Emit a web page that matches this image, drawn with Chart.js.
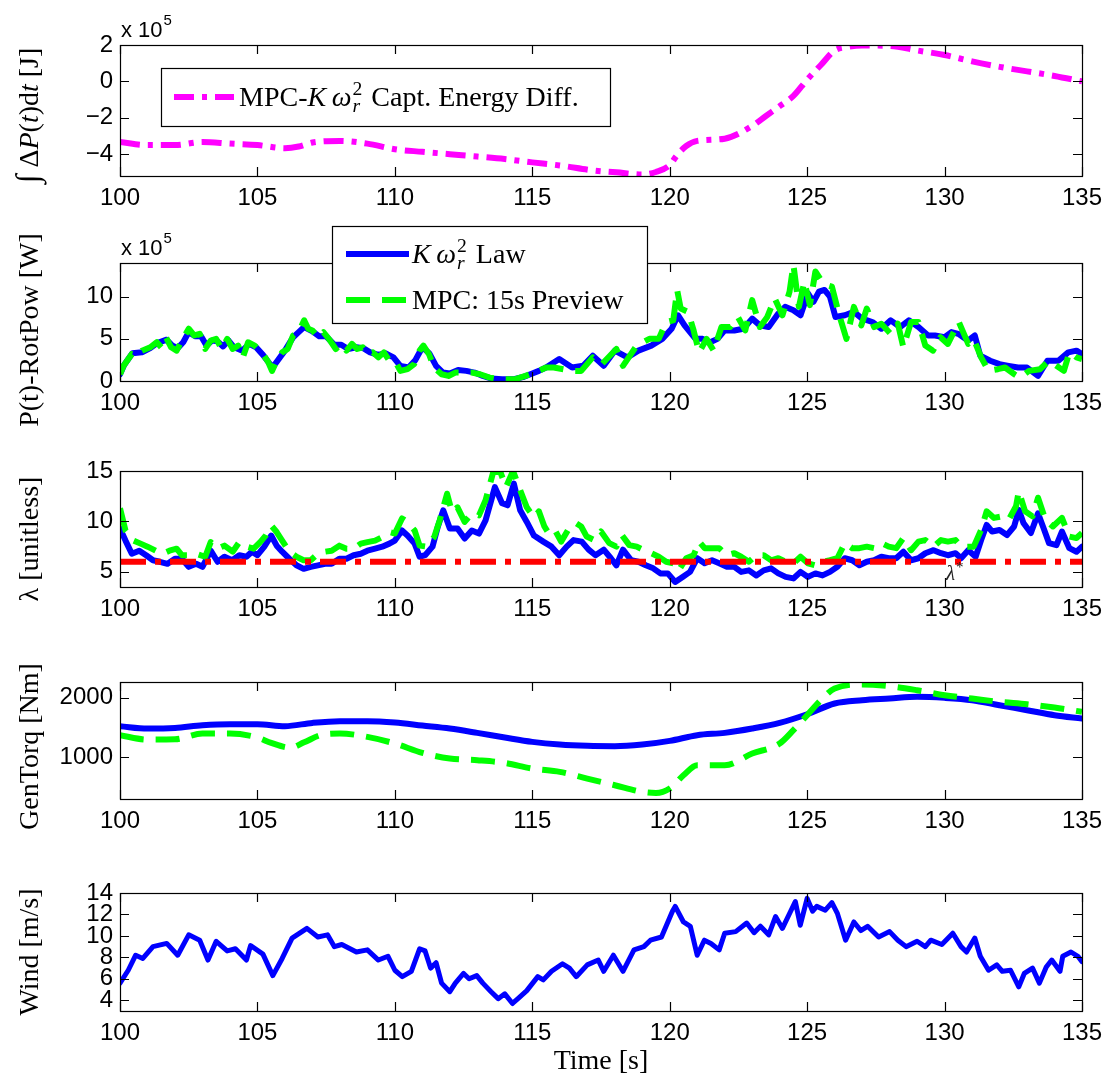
<!DOCTYPE html>
<html>
<head>
<meta charset="utf-8">
<script src="https://cdn.jsdelivr.net/npm/chart.js@4.4.0/dist/chart.umd.min.js"></script>
<style>
html, body { margin: 0; padding: 0; background: #fff; }
#fig { position: relative; width: 1116px; height: 1081px; overflow: hidden; background: #fff; }
#fig canvas { position: absolute; left: 0; }
</style>
</head>
<body>
<div id="fig">
  <canvas id="c_energy"></canvas>
  <canvas id="c_power"></canvas>
  <canvas id="c_tsr"></canvas>
  <canvas id="c_torque"></canvas>
  <canvas id="c_wind"></canvas>
</div>
<script>
// tick values
const timeTicks = [100, 105, 110, 115, 120, 125, 130, 135];
const energyTicks = [-4, -2, 0, 2];
const powerTicks = [0, 5, 10];
const tsrTicks = [5, 10, 15];
const torqueTicks = [1000, 2000];
const windTicks = [4, 6, 8, 10, 12, 14];

// integral of MPC minus K*w^2 power [x1e5 J], as [time, value]
const energyDiff = [
  [100, -3.33], [101, -3.5], [102, -3.5], [103, -3.33], [104, -3.42], [105, -3.5], [106, -3.67],
  [106.5, -3.58], [107, -3.36], [108, -3.27], [109, -3.42], [110, -3.73], [111, -3.87], [112, -4.0],
  [113, -4.13], [114, -4.27], [115, -4.45], [116, -4.62], [117.25, -4.9], [118.06, -5.0], [119, -5.12],
  [119.5, -4.98], [120, -4.6], [120.27, -4.05], [120.6, -3.55], [121, -3.27], [122, -3.15], [123, -2.45],
  [123.5, -1.9], [124, -1.36], [124.5, -0.8], [125, 0.1], [125.5, 0.9], [126, 1.7], [126.5, 1.9],
  [127, 1.97], [128, 1.95], [129, 1.7], [130, 1.45], [131, 1.1], [132, 0.8], [133, 0.55], [134, 0.3], [135, 0.0]
];

// rotor power [x1e5 W]
const powerKw2 = [
  [100, 0.8], [100.15, 1.9], [100.45, 3.3], [100.8, 3.4], [101.1, 3.9], [101.35, 4.5], [101.7, 4.9], [101.9, 4.2],
  [102.1, 3.9], [102.3, 4.6], [102.5, 5.8], [102.75, 5.3], [102.95, 5.3], [103.15, 4.2], [103.35, 4.8], [103.55, 4.7],
  [103.75, 4.1], [103.95, 4.8], [104.15, 4.0], [104.45, 3.6], [104.7, 4.4], [104.95, 4.0], [105.2, 3.1], [105.55, 1.6],
  [105.75, 2.5], [106.0, 3.6], [106.3, 5.2], [106.5, 5.8], [106.7, 6.4], [107.0, 5.9], [107.25, 5.3], [107.5, 5.3],
  [107.8, 4.3], [108.05, 4.3], [108.3, 3.8], [108.6, 4.0], [108.85, 3.9], [109.1, 3.4], [109.4, 3.1], [109.65, 3.3],
  [109.95, 2.8], [110.2, 1.8], [110.5, 1.6], [110.75, 2.5], [111.0, 4.0], [111.25, 3.3], [111.5, 1.8], [111.75, 1.0],
  [112.0, 0.9], [112.3, 1.3], [112.6, 1.2], [112.9, 1.0], [113.2, 0.6], [113.5, 0.3], [113.9, 0.2], [114.3, 0.2],
  [114.7, 0.5], [115.0, 0.9], [115.24, 1.2], [115.5, 1.6], [115.98, 2.6], [116.45, 1.6], [116.85, 1.8], [117.2, 3.0],
  [117.6, 1.8], [118.0, 3.6], [118.46, 2.8], [118.86, 3.6], [119.33, 4.2], [119.73, 5.0], [120.07, 6.2], [120.3, 7.8],
  [120.54, 6.6], [120.74, 5.8], [120.94, 5.0], [121.2, 5.0], [121.47, 4.6], [121.74, 5.0], [122.0, 6.0], [122.35, 6.0],
  [122.68, 6.2], [123.0, 7.4], [123.28, 6.6], [123.6, 6.4], [123.95, 8.0], [124.2, 8.8], [124.5, 8.4], [124.76, 7.8],
  [125.03, 10.4], [125.23, 9.4], [125.43, 10.6], [125.63, 10.8], [125.83, 10.0], [126.03, 7.6], [126.37, 7.8],
  [126.7, 8.2], [127.0, 7.4], [127.37, 7.0], [127.7, 6.2], [128.04, 7.2], [128.38, 6.4], [128.7, 7.2], [129.05, 6.4],
  [129.4, 5.4], [129.65, 5.4], [130.0, 5.2], [130.25, 5.8], [130.5, 5.6], [130.85, 4.8], [131.1, 5.4], [131.3, 3.0],
  [131.66, 2.4], [132.0, 2.0], [132.33, 1.8], [132.67, 1.6], [133.0, 1.6], [133.4, 0.6], [133.74, 2.4], [134.14, 2.4],
  [134.5, 3.4], [134.8, 3.6], [135, 3.2]
];
const powerMpc = [
  [100, 0.8], [100.13, 1.8], [100.43, 3.2], [100.62, 3.0], [100.8, 3.6], [101.1, 4.0], [101.34, 4.6], [101.5, 4.0],
  [101.67, 5.2], [101.86, 4.0], [102.06, 3.6], [102.25, 4.8], [102.5, 6.2], [102.7, 5.4], [102.9, 5.6], [103.1, 3.8],
  [103.3, 4.8], [103.5, 5.0], [103.7, 3.8], [103.9, 5.0], [104.1, 3.8], [104.3, 4.2], [104.47, 2.8], [104.66, 4.6],
  [104.9, 4.2], [105.2, 3.2], [105.4, 2.2], [105.53, 1.2], [105.7, 2.4], [105.9, 3.4], [106.1, 3.8], [106.3, 5.4],
  [106.5, 5.8], [106.7, 7.2], [106.85, 6.2], [107.0, 6.0], [107.2, 5.2], [107.4, 5.8], [107.6, 5.0], [107.85, 3.8],
  [108.05, 4.4], [108.24, 3.6], [108.44, 4.4], [108.63, 3.8], [108.83, 4.0], [109.0, 3.2], [109.2, 3.4], [109.4, 2.8],
  [109.6, 3.4], [109.8, 2.4], [110.0, 2.4], [110.2, 1.2], [110.46, 1.4], [110.7, 2.0], [110.9, 3.6], [111.04, 4.2],
  [111.24, 3.2], [111.43, 1.6], [111.7, 0.8], [111.95, 0.6], [112.2, 1.0], [112.5, 1.0], [112.8, 1.0], [113.1, 0.8],
  [113.45, 0.4], [113.84, 0.2], [114.36, 0.2], [114.75, 0.6], [115.1, 1.0], [115.5, 1.6], [115.78, 1.6], [116.45, 1.2],
  [116.78, 1.2], [117.2, 2.8], [117.53, 2.0], [118.06, 3.8], [118.3, 1.8], [118.8, 4.2], [119.26, 5.0], [119.6, 5.0],
  [119.87, 7.0], [120.13, 7.2], [120.27, 10.8], [120.4, 8.6], [120.67, 8.2], [120.87, 6.0], [121.07, 3.4], [121.34, 5.0],
  [121.6, 3.6], [121.88, 6.4], [122.2, 6.4], [122.48, 7.6], [122.75, 6.0], [123.0, 9.6], [123.28, 6.4], [123.55, 7.6],
  [123.82, 9.8], [124.1, 7.8], [124.36, 10.6], [124.5, 13.8], [124.7, 8.8], [124.9, 11.8], [125.1, 9.0], [125.3, 13.0],
  [125.5, 12.0], [125.7, 11.4], [125.9, 11.2], [126.17, 7.8], [126.43, 5.0], [126.7, 8.8], [126.97, 6.6], [127.17, 8.6],
  [127.44, 6.4], [127.7, 6.8], [128.04, 5.6], [128.3, 6.8], [128.5, 4.0], [128.78, 7.0], [129.05, 7.0], [129.3, 4.2],
  [129.58, 3.6], [129.85, 5.2], [130.12, 4.4], [130.52, 7.0], [130.86, 4.4], [131.06, 5.0], [131.33, 2.8], [131.6, 1.2],
  [131.94, 1.4], [132.2, 1.6], [132.54, 0.8], [132.74, 0.4], [133.07, 1.2], [133.47, 1.4], [133.8, 2.4], [134.07, 1.8],
  [134.34, 1.2], [134.54, 3.4], [134.8, 2.8], [135, 2.6]
];

// tip speed ratio [-]
const tsrOptimal = 6.0;
const tsrKw2 = [
  [100, 9.3], [100.2, 8.1], [100.43, 6.8], [100.7, 7.1], [100.95, 6.65], [101.2, 6.15], [101.45, 6.0], [101.73, 5.8],
  [102.0, 6.3], [102.25, 6.3], [102.5, 5.5], [102.77, 5.8], [103.0, 5.5], [103.3, 7.1], [103.55, 6.0], [103.8, 6.5],
  [104.08, 6.15], [104.34, 6.65], [104.6, 6.5], [104.8, 7.0], [105.0, 6.65], [105.25, 7.5], [105.5, 8.6], [105.7, 7.6],
  [105.9, 7.0], [106.16, 6.3], [106.42, 5.65], [106.68, 5.3], [106.94, 5.5], [107.2, 5.65], [107.46, 5.8], [107.7, 5.8],
  [107.98, 6.3], [108.24, 6.3], [108.5, 6.65], [108.76, 6.8], [109.0, 7.1], [109.28, 7.3], [109.54, 7.5], [109.8, 7.8],
  [110.0, 8.1], [110.26, 9.1], [110.46, 8.6], [110.72, 7.8], [110.9, 6.5], [111.1, 6.65], [111.37, 7.5], [111.56, 9.45],
  [111.76, 11.1], [112.0, 9.3], [112.28, 9.3], [112.54, 8.3], [112.8, 9.1], [113.06, 8.8], [113.3, 10.1], [113.64, 13.4],
  [113.9, 11.8], [114.1, 11.6], [114.33, 13.75], [114.56, 11.1], [114.8, 9.95], [115.06, 8.6], [115.4, 8.0], [115.7, 7.5],
  [115.98, 6.65], [116.25, 7.5], [116.5, 8.15], [116.8, 8.0], [117.05, 7.2], [117.3, 6.65], [117.6, 7.2], [117.86, 6.35],
  [118.06, 5.65], [118.3, 7.2], [118.6, 6.15], [118.86, 6.0], [119.13, 5.65], [119.4, 5.35], [119.66, 4.85], [119.93, 4.85],
  [120.2, 4.0], [120.47, 4.5], [120.74, 5.0], [121.0, 6.35], [121.27, 5.85], [121.54, 6.15], [121.8, 5.85], [122.08, 5.5],
  [122.35, 5.5], [122.6, 5.0], [122.88, 5.15], [123.15, 4.65], [123.42, 5.15], [123.69, 5.35], [123.95, 4.85], [124.22, 4.5],
  [124.5, 4.35], [124.76, 5.0], [125.03, 4.5], [125.3, 4.85], [125.56, 4.65], [125.83, 5.0], [126.1, 5.5], [126.37, 6.35],
  [126.64, 6.15], [126.9, 5.65], [127.17, 6.0], [127.44, 6.15], [127.7, 6.5], [127.97, 6.35], [128.24, 6.35], [128.5, 7.0],
  [128.78, 6.15], [129.05, 6.35], [129.3, 6.85], [129.6, 7.15], [129.87, 6.85], [130.12, 6.65], [130.4, 6.85], [130.6, 6.35],
  [130.86, 7.15], [131.13, 6.5], [131.33, 8.15], [131.53, 9.65], [131.73, 9.0], [132.0, 9.15], [132.27, 8.65], [132.53, 9.5],
  [132.7, 11.15], [132.87, 9.85], [133.14, 8.85], [133.4, 10.8], [133.6, 9.35], [133.8, 7.85], [134.07, 7.65], [134.27, 9.0],
  [134.54, 7.35], [134.8, 7.0], [135, 7.5]
];
const tsrMpc = [
  [100, 11.3], [100.2, 9.1], [100.5, 8.1], [100.75, 7.8], [101.0, 7.5], [101.3, 7.1], [101.55, 6.8], [101.8, 7.1],
  [102.06, 7.3], [102.25, 6.65], [102.5, 6.65], [102.77, 6.8], [103.1, 6.5], [103.3, 7.95], [103.55, 7.3], [103.8, 7.6],
  [104.1, 7.0], [104.34, 7.95], [104.6, 7.5], [104.86, 7.3], [105.1, 7.95], [105.3, 8.6], [105.5, 9.6], [105.7, 8.95],
  [105.9, 8.1], [106.16, 7.0], [106.42, 6.5], [106.68, 6.15], [106.94, 6.15], [107.2, 6.8], [107.46, 7.0], [107.7, 7.1],
  [107.98, 7.6], [108.24, 7.3], [108.5, 7.3], [108.76, 7.8], [109.0, 7.95], [109.28, 8.1], [109.54, 8.45], [109.8, 8.95],
  [110.0, 8.8], [110.26, 10.3], [110.46, 9.95], [110.72, 9.1], [110.9, 7.6], [111.17, 7.5], [111.43, 8.45], [111.63, 10.1],
  [111.9, 12.75], [112.08, 10.9], [112.28, 11.4], [112.54, 9.95], [112.8, 10.8], [113.06, 10.6], [113.3, 12.1], [113.58, 14.9],
  [113.84, 14.9], [114.04, 13.4], [114.3, 15.0], [114.56, 13.1], [114.8, 11.4], [115.06, 10.4], [115.24, 11.0], [115.44, 9.5],
  [115.64, 8.65], [115.85, 9.0], [116.05, 8.0], [116.3, 9.15], [116.58, 9.85], [116.78, 9.5], [116.98, 8.5], [117.25, 8.15],
  [117.5, 9.0], [117.8, 7.85], [118.06, 7.5], [118.26, 8.65], [118.53, 7.65], [118.8, 7.5], [119.06, 7.15], [119.33, 6.85],
  [119.6, 6.5], [119.87, 6.0], [120.13, 5.85], [120.33, 5.15], [120.6, 6.35], [120.87, 6.65], [121.07, 8.0], [121.27, 7.35],
  [121.54, 7.35], [121.8, 7.35], [122.08, 6.65], [122.35, 6.85], [122.6, 6.5], [122.88, 6.0], [123.15, 6.65], [123.42, 6.65],
  [123.69, 6.15], [123.95, 6.35], [124.22, 6.0], [124.5, 5.85], [124.76, 6.5], [125.03, 5.85], [125.3, 5.65], [125.56, 6.0],
  [125.83, 6.15], [126.1, 6.35], [126.37, 7.85], [126.64, 7.35], [126.9, 7.35], [127.17, 7.5], [127.44, 7.35], [127.7, 7.85],
  [127.97, 7.5], [128.24, 7.35], [128.5, 8.35], [128.78, 7.15], [129.05, 8.0], [129.3, 8.15], [129.6, 7.5], [129.87, 8.15],
  [130.12, 8.0], [130.4, 8.15], [130.6, 7.5], [130.86, 7.5], [131.06, 7.5], [131.33, 9.15], [131.53, 11.0], [131.8, 10.35],
  [132.07, 10.5], [132.33, 10.15], [132.6, 11.5], [132.7, 13.0], [132.93, 11.0], [133.2, 10.5], [133.4, 12.35], [133.67, 10.15],
  [133.94, 9.5], [134.27, 10.35], [134.54, 8.5], [134.8, 8.35], [135, 8.85]
];

// generator torque [Nm]
const torqueKw2 = [
  [100, 1520], [101, 1480], [102, 1490], [103, 1535], [104, 1553], [105, 1553], [106, 1520], [107, 1575], [108, 1603],
  [109, 1603], [110, 1580], [111, 1530], [112, 1480], [113, 1408], [114, 1330], [115, 1257], [116, 1212], [117, 1190],
  [118, 1184], [119, 1212], [120, 1274], [121, 1369], [122, 1408], [123, 1480], [124, 1575], [125, 1720], [126, 1900],
  [127, 1955], [128, 1983], [129, 2011], [130, 1994], [131, 1955], [132, 1870], [133, 1788], [134, 1704], [135, 1648]
];
const torqueMpc = [
  [100, 1369], [101, 1296], [102, 1300], [103, 1397], [104, 1397], [105, 1330], [105.5, 1240], [106.2, 1160],
  [106.7, 1250], [107.3, 1370], [108, 1397], [109, 1341], [110, 1229], [111, 1073], [112, 978], [113, 950], [114, 905],
  [115, 810], [116, 754], [117, 642], [118, 531], [119, 419], [119.5, 400], [120, 475], [120.5, 698], [121, 866],
  [122, 866], [123, 1061], [124, 1229], [124.5, 1453], [125, 1704], [125.5, 1955], [126, 2151], [127, 2218], [128, 2190],
  [129, 2123], [130, 2039], [131, 1983], [132, 1927], [133, 1888], [134, 1832], [135, 1760]
];

// hub-height wind speed [m/s]
const windSpeed = [
  [100, 5.6], [100.3, 6.8], [100.57, 8.2], [100.83, 7.9], [101.2, 9.0], [101.7, 9.3], [102.1, 8.2], [102.5, 10.1],
  [102.9, 9.6], [103.2, 7.75], [103.5, 9.5], [103.9, 8.6], [104.2, 8.8], [104.6, 7.75], [104.75, 9.1], [105.2, 8.3],
  [105.56, 6.3], [105.9, 7.9], [106.26, 9.8], [106.8, 10.7], [107.2, 9.9], [107.55, 10.1], [107.8, 9.0], [108.07, 9.2],
  [108.6, 8.5], [109.0, 8.7], [109.4, 7.75], [109.75, 8.1], [110.0, 6.8], [110.27, 6.2], [110.6, 6.7], [110.9, 8.8],
  [111.1, 8.6], [111.3, 7.0], [111.5, 7.5], [111.7, 5.6], [112.0, 4.8], [112.2, 5.6], [112.5, 6.5], [112.7, 6.0],
  [112.98, 6.3], [113.2, 5.6], [113.5, 4.8], [113.76, 4.15], [114.0, 4.6], [114.28, 3.7], [114.5, 4.2], [114.8, 4.9],
  [115.2, 6.2], [115.4, 5.9], [115.7, 6.7], [116.1, 7.4], [116.35, 7.0], [116.6, 6.2], [117.0, 7.3], [117.4, 7.75],
  [117.6, 6.7], [117.95, 8.2], [118.3, 6.7], [118.7, 8.7], [119.06, 9.0], [119.3, 9.6], [119.7, 9.9], [120.1, 12.3],
  [120.2, 12.75], [120.5, 11.3], [120.75, 10.9], [121.0, 8.2], [121.26, 9.6], [121.5, 9.3], [121.8, 8.7], [122.0, 10.25],
  [122.4, 10.4], [122.8, 11.2], [123.07, 10.3], [123.3, 10.9], [123.6, 10.1], [123.85, 11.8], [124.1, 10.7], [124.4, 12.3],
  [124.57, 13.2], [124.75, 11.0], [125.0, 13.5], [125.2, 12.3], [125.35, 12.75], [125.66, 12.4], [125.9, 13.1], [126.1, 12.1],
  [126.4, 9.6], [126.7, 11.3], [126.95, 10.5], [127.2, 10.9], [127.6, 9.9], [128.0, 10.4], [128.3, 9.6], [128.6, 9.0],
  [129.0, 9.5], [129.3, 9.0], [129.5, 9.6], [129.9, 9.2], [130.3, 10.25], [130.6, 9.0], [130.8, 8.5], [131.1, 9.8],
  [131.3, 8.1], [131.6, 6.8], [131.9, 7.3], [132.1, 6.7], [132.4, 6.8], [132.7, 5.25], [132.9, 6.5], [133.2, 7.0],
  [133.45, 5.6], [133.7, 7.1], [133.9, 7.75], [134.2, 6.7], [134.3, 8.1], [134.6, 8.5], [134.85, 8.1], [135, 7.6]
];

const SERIF = '"Liberation Serif", "Times New Roman", serif';
const SANS = '"Liberation Sans", Arial, sans-serif';
const BLUE = '#0000ff', GREEN = '#00ff00', RED = '#ff0000', MAGENTA = '#ff00ff';
const DASH = [24, 12];
const DASHDOT = [20, 8, 5, 8];
const PLOT_LEFT = 120, PLOT_RIGHT = 1082, TICK = 9;

// text runs: plain, italic, and stacked sub/superscript
const R = (t, scale) => ({ t, scale });
const I = t => ({ t, it: true });
const SS = (sub, sup) => ({ sub, sup });

function fontOf(size, it, fam) {
  return (it ? 'italic ' : '') + size + 'px ' + fam;
}

function runsWidth(ctx, runs, size, fam) {
  let w = 0;
  for (const r of runs) {
    if (r.sub !== undefined) {
      ctx.font = fontOf(size * 0.7, true, fam);
      const a = ctx.measureText(r.sub).width;
      ctx.font = fontOf(size * 0.7, false, fam);
      const b = ctx.measureText(r.sup).width;
      w += Math.max(a, b) + 3;
    } else {
      ctx.font = fontOf(size * (r.scale || 1), r.it, fam);
      w += ctx.measureText(r.t).width;
    }
  }
  return w;
}

function drawRuns(ctx, runs, x, y, size, fam) {
  ctx.textBaseline = 'alphabetic';
  ctx.textAlign = 'left';
  for (const r of runs) {
    if (r.sub !== undefined) {
      ctx.font = fontOf(size * 0.7, true, fam);
      const a = ctx.measureText(r.sub).width;
      ctx.fillText(r.sub, x + 1, y + size * 0.22);
      ctx.font = fontOf(size * 0.7, false, fam);
      const b = ctx.measureText(r.sup).width;
      ctx.fillText(r.sup, x + 1, y - size * 0.4);
      x += Math.max(a, b) + 3;
    } else {
      ctx.font = fontOf(size * (r.scale || 1), r.it, fam);
      ctx.fillText(r.t, x, y);
      x += ctx.measureText(r.t).width;
    }
  }
}

// MATLAB-style box, inward ticks, y label, legend and notes
function decor(p) {
  return {
    id: 'decor',
    afterDraw(chart) {
      const { ctx, chartArea: a, scales: { x, y } } = chart;
      ctx.save();
      ctx.strokeStyle = '#000';
      ctx.lineWidth = 1.2;
      ctx.beginPath();
      for (const v of timeTicks) {
        const px = Math.round(x.getPixelForValue(v)) + 0.5;
        ctx.moveTo(px, a.bottom); ctx.lineTo(px, a.bottom - TICK);
        ctx.moveTo(px, a.top); ctx.lineTo(px, a.top + TICK);
      }
      for (const v of p.yTicks) {
        const py = Math.round(y.getPixelForValue(v)) + 0.5;
        ctx.moveTo(a.left, py); ctx.lineTo(a.left + TICK, py);
        ctx.moveTo(a.right, py); ctx.lineTo(a.right - TICK, py);
      }
      ctx.stroke();
      ctx.strokeRect(Math.round(a.left) + 0.5, Math.round(a.top) + 0.5, Math.round(a.width), Math.round(a.height));

      ctx.fillStyle = '#000';
      // scale exponent above the axes
      if (p.exponent) {
        ctx.font = fontOf(22, false, SANS);
        ctx.textBaseline = 'alphabetic';
        ctx.textAlign = 'left';
        ctx.fillText('x 10', a.left + 1, a.top - 8);
        const w = ctx.measureText('x 10').width;
        ctx.font = fontOf(15, false, SANS);
        ctx.fillText(p.exponent, a.left + w + 2, a.top - 20);
      }

      // rotated y label
      const fs = 28;
      const lw = runsWidth(ctx, p.label, fs, SERIF);
      ctx.save();
      ctx.translate(38, (a.top + a.bottom) / 2 + p.labelShift);
      ctx.rotate(-Math.PI / 2);
      drawRuns(ctx, p.label, -lw / 2, 0, fs, SERIF);
      ctx.restore();

      if (p.xTitle) {
        const tw = runsWidth(ctx, p.xTitle, fs, SERIF);
        drawRuns(ctx, p.xTitle, (a.left + a.right) / 2 - tw / 2, a.bottom + 58, fs, SERIF);
      }

      if (p.note) {
        const nx = x.getPixelForValue(p.note.x), ny = y.getPixelForValue(p.note.y);
        ctx.fillStyle = '#222';
        ctx.font = fontOf(21, true, SERIF);
        ctx.textAlign = 'left';
        ctx.fillText('λ', nx, ny);
        const w = ctx.measureText('λ').width;
        ctx.font = fontOf(15, false, SERIF);
        ctx.fillText('*', nx + w + 1, ny - 8);
        ctx.fillStyle = '#000';
      }

      if (p.legend) {
        const L = p.legend;
        const bx = a.left + L.x, by = a.top + L.y;
        ctx.fillStyle = '#fff';
        ctx.fillRect(bx, by, L.w, L.h);
        ctx.strokeStyle = '#000';
        ctx.lineWidth = 1.2;
        ctx.setLineDash([]);
        ctx.strokeRect(Math.round(bx) + 0.5, Math.round(by) + 0.5, L.w, L.h);
        for (const row of L.rows) {
          const ly = by + row.dy;
          ctx.strokeStyle = row.color;
          ctx.lineWidth = row.width;
          ctx.setLineDash(row.dash || []);
          ctx.lineCap = 'butt';
          ctx.beginPath();
          ctx.moveTo(bx + L.sx0, ly);
          ctx.lineTo(bx + L.sx1, ly);
          ctx.stroke();
          ctx.setLineDash([]);
          ctx.fillStyle = '#000';
          drawRuns(ctx, row.runs, bx + L.tx, ly + 9, fs, SERIF);
        }
      }
      ctx.restore();
    }
  };
}

function series(points, color, width, dash, order, smooth) {
  return {
    data: points.map(([t, v]) => ({ x: t, y: v })),
    borderColor: color,
    borderWidth: width,
    borderDash: dash || [],
    borderCapStyle: dash ? 'butt' : 'round',
    borderJoinStyle: 'round',
    pointRadius: 0,
    fill: false,
    tension: smooth ? 0.4 : 0,
    cubicInterpolationMode: smooth ? 'monotone' : 'default',
    clip: 0,
    order: order
  };
}

const panels = [
  {
    id: 'c_energy', top: 0, bottom: 216, plotTop: 45, plotBottom: 176,
    yMin: -5.2, yMax: 2, yTicks: energyTicks, exponent: '5', labelShift: 5,
    label: [R('∫', 1.15), R(' Δ'), I('P'), R('('), I('t'), R(')d'), I('t'), R(' [J]')],
    datasets: [series(energyDiff, MAGENTA, 6, DASHDOT, 0, true)],
    legend: {
      x: 41, y: 23, w: 449, h: 58, sx0: 13, sx1: 73, tx: 78,
      rows: [{ dy: 29, color: MAGENTA, width: 6, dash: DASHDOT,
               runs: [R('MPC-'), I('K\u2009'), I('ω'), SS('r', '2'), R(' Capt. Energy Diff.')] }]
    }
  },
  {
    id: 'c_power', top: 205, bottom: 450, plotTop: 263, plotBottom: 381,
    yMin: 0, yMax: 14, yTicks: powerTicks, exponent: '5', labelShift: 8,
    label: [R('P(t)-RotPow [W]')],
    datasets: [series(powerKw2, BLUE, 6, null, 1), series(powerMpc, GREEN, 6, DASH, 0)],
    legend: {
      x: 212, y: -37, w: 315, h: 97, sx0: 14, sx1: 77, tx: 80,
      rows: [
        { dy: 28, color: BLUE, width: 6, runs: [I('K\u2009'), I('ω'), SS('r', '2'), R(' Law')] },
        { dy: 74, color: GREEN, width: 6, dash: DASH, runs: [R('MPC: 15s Preview')] }
      ]
    }
  },
  {
    id: 'c_tsr', top: 430, bottom: 627, plotTop: 471, plotBottom: 587,
    yMin: 3.5, yMax: 15, yTicks: tsrTicks, labelShift: 10,
    label: [R('λ [unitless]')],
    datasets: [
      series(tsrKw2, BLUE, 6, null, 2),
      series(tsrMpc, GREEN, 6, DASH, 1),
      series([[100, tsrOptimal], [135, tsrOptimal]], RED, 6, [26, 9, 6, 9], 0)
    ],
    note: { x: 130.05, y: 4.2 }
  },
  {
    id: 'c_torque', top: 640, bottom: 839, plotTop: 682, plotBottom: 799,
    yMin: 300, yMax: 2260, yTicks: torqueTicks, labelShift: 6,
    label: [R('GenTorq [Nm]')],
    datasets: [series(torqueKw2, BLUE, 6, null, 1, true), series(torqueMpc, GREEN, 6, DASH, 0, true)]
  },
  {
    id: 'c_wind', top: 850, bottom: 1081, plotTop: 893, plotBottom: 1011,
    yMin: 3, yMax: 14, yTicks: windTicks, labelShift: 0,
    label: [R('Wind [m/s]')],
    xTitle: [R('Time [s]')],
    datasets: [series(windSpeed, BLUE, 5, null, 0)]
  }
];

const tickFont = { family: SANS, size: 24 };
const fmt = v => String(v).replace('-', '\u2212');

for (const p of panels) {
  const cv = document.getElementById(p.id);
  cv.width = 1116;
  cv.height = p.bottom - p.top;
  cv.style.top = p.top + 'px';
  new Chart(cv, {
    type: 'line',
    data: { datasets: p.datasets },
    options: {
      responsive: false,
      animation: false,
      devicePixelRatio: 1,
      layout: { padding: { left: 0, right: 1116 - PLOT_RIGHT, top: p.plotTop - p.top, bottom: 0 } },
      plugins: { legend: { display: false }, tooltip: { enabled: false } },
      scales: {
        x: {
          type: 'linear', min: 100, max: 135,
          grid: { display: false, drawTicks: false },
          border: { display: false },
          afterBuildTicks: s => { s.ticks = timeTicks.map(v => ({ value: v })); },
          afterFit: s => { s.height = p.bottom - p.plotBottom; },
          ticks: { font: tickFont, color: '#000', padding: 8, maxRotation: 0, autoSkip: false, callback: fmt }
        },
        y: {
          type: 'linear', min: p.yMin, max: p.yMax,
          grid: { display: false, drawTicks: false },
          border: { display: false },
          afterBuildTicks: s => { s.ticks = p.yTicks.map(v => ({ value: v })); },
          afterFit: s => { s.width = PLOT_LEFT; },
          ticks: { font: tickFont, color: '#000', padding: 7, autoSkip: false, callback: fmt }
        }
      }
    },
    plugins: [decor(p)]
  });
}
</script>
</body>
</html>
